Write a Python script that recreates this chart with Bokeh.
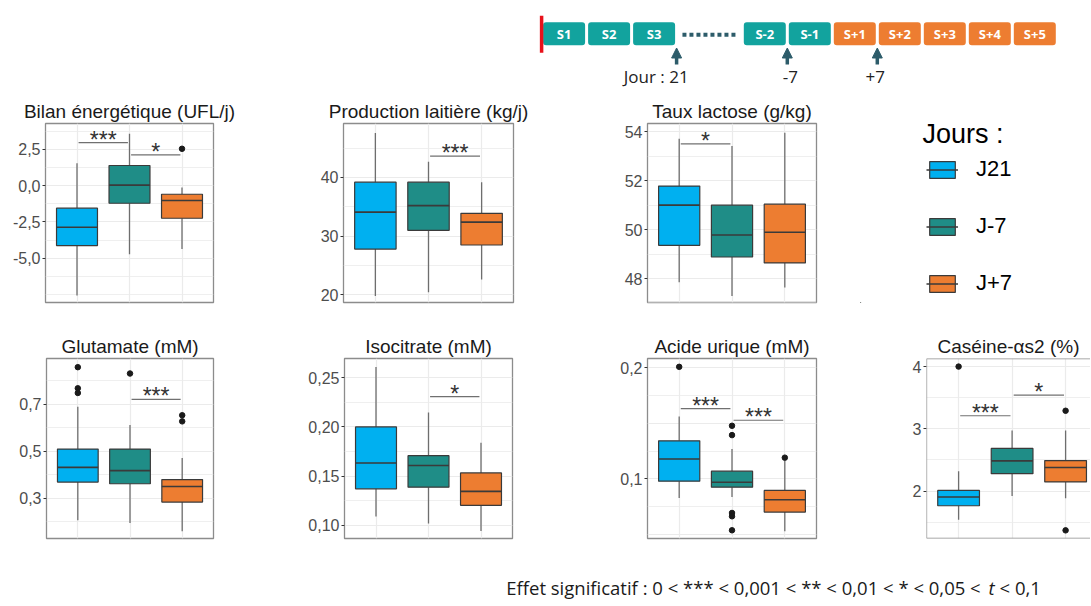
from bokeh.plotting import figure
from bokeh.layouts import row, column
from bokeh.models import (Range1d, ColumnDataSource, FixedTicker, CustomJSTickFormatter,
                          Legend, LegendItem, Span, Arrow, NormalHead, Label)
from bokeh.core.properties import value
from bokeh.embed import file_html
from bokeh.resources import INLINE

# ---------------- data ----------------
GROUPS = ["J21", "J-7", "J+7"]
COLORS = ["#00B0F0", "#1F8D87", "#ED7D31"]
LEGEND_TITLE = "Jours :"

# stats per group: [lower whisker, Q1, median, Q3, upper whisker]
bilan_stats = [[-7.57, -4.13, -2.87, -1.56, 1.54], [-4.73, -1.22, 0.03, 1.38, 3.56], [-4.36, -2.25, -1.03, -0.60, -0.14]]
bilan_out = [[], [], [2.53]]
bilan_sig = [("J21", "J-7", 2.96, "***"), ("J-7", "J+7", 2.11, "*")]

prod_stats = [[19.8, 27.8, 34.1, 39.2, 47.6], [20.45, 31.0, 35.2, 39.2, 42.7], [22.6, 28.5, 32.4, 33.9, 39.2]]
prod_out = [[], [], []]
prod_sig = [("J-7", "J+7", 43.65, "***")]

lact_stats = [[47.85, 49.36, 51.0, 51.78, 53.72], [47.29, 48.88, 49.78, 51.0, 53.42], [47.63, 48.64, 49.89, 51.04, 53.96]]
lact_out = [[], [], []]
lact_sig = [("J21", "J-7", 53.51, "*")]

glut_stats = [[0.205, 0.368, 0.431, 0.509, 0.689], [0.194, 0.361, 0.417, 0.509, 0.611], [0.159, 0.283, 0.349, 0.379, 0.471]]
glut_out = [[0.858, 0.768, 0.748], [0.831], [0.653, 0.627]]
glut_sig = [("J-7", "J+7", 0.721, "***")]

iso_stats = [[0.109, 0.137, 0.1633, 0.200, 0.261], [0.1017, 0.1387, 0.1607, 0.1708, 0.2146], [0.0942, 0.1202, 0.1344, 0.1532, 0.1839]]
iso_out = [[], [], []]
iso_sig = [("J-7", "J+7", 0.2308, "*")]

uric_stats = [[0.0827, 0.0979, 0.1179, 0.1343, 0.1561], [0.0836, 0.0925, 0.0970, 0.1069, 0.1269], [0.0528, 0.0701, 0.0812, 0.0896, 0.1164]]
uric_out = [[0.2009], [0.1478, 0.1394, 0.0693, 0.0663, 0.0537], [0.1191]]
uric_sig = [("J21", "J-7", 0.1633, "***"), ("J-7", "J+7", 0.1528, "***")]

cas_stats = [[1.537, 1.763, 1.905, 2.01, 2.316], [1.921, 2.279, 2.484, 2.684, 2.974], [1.884, 2.147, 2.379, 2.49, 2.974]]
cas_out = [[4.0], [], [3.29, 1.368]]
cas_sig = [("J21", "J-7", 3.21, "***"), ("J-7", "J+7", 3.542, "*")]

# timeline
WEEKS = ["S1", "S2", "S3", "S-2", "S-1", "S+1", "S+2", "S+3", "S+4", "S+5"]
WEEK_PHASE = ["pre", "pre", "pre", "pre", "pre", "post", "post", "post", "post", "post"]
EVENTS = ["Jour : 21", "-7", "+7"]
EVENT_AFTER = ["S3", "S-2", "S+1"]

FOOT_A = "Effet significatif :  0 < *** < 0,001 < ** < 0,01 < * < 0,05 <"
FOOT_T = "t"
FOOT_B = "< 0,1"

# ---------------- style ----------------
FONT = "Liberation Sans"
BOX_LINE = "#3A3A3A"
WHISK = "#6E6E6E"
GRID = "#EBEBEB"
BOXW = 0.78
LABELLED = {"Acide urique (mM)": [0.1, 0.2]}


def panel(title, stats, outs, sigs, ylim, ticks, minor, dec, width, left, right, height,
          bottom, xend=3.6, cut=False):
    p = figure(width=width, height=height, x_range=Range1d(0.4, xend), y_range=Range1d(*ylim),
               toolbar_location=None, output_backend="svg", x_axis_location=None,
               min_border_left=left, min_border_right=right, min_border_top=0,
               min_border_bottom=bottom, outline_line_color=None if cut else "#8C8C8C",
               outline_line_width=1.3)
    p.title.text = title
    p.title.align = "center"
    p.title.text_font = FONT
    p.title.text_font_size = "19px"
    p.title.text_font_style = "normal"
    p.title.text_color = "#1A1A1A"
    p.title.standoff = 3
    p.title.offset = 0

    xs = [i + 1 for i in range(len(GROUPS))]
    src = ColumnDataSource(dict(
        x=xs, lo=[s[0] for s in stats], q1=[s[1] for s in stats], med=[s[2] for s in stats],
        q3=[s[3] for s in stats], hi=[s[4] for s in stats], color=COLORS,
        xl=[x - BOXW / 2 for x in xs], xr=[x + BOXW / 2 for x in xs]))
    p.segment(x0="x", y0="lo", x1="x", y1="q1", source=src, line_color=WHISK, line_width=1.3)
    p.segment(x0="x", y0="q3", x1="x", y1="hi", source=src, line_color=WHISK, line_width=1.3)
    p.vbar(x="x", width=BOXW, bottom="q1", top="q3", source=src, fill_color="color",
           line_color=BOX_LINE, line_width=1.2)
    p.segment(x0="xl", y0="med", x1="xr", y1="med", source=src, line_color=BOX_LINE, line_width=1.6)

    ox, oy = [], []
    for i, o in enumerate(outs):
        ox += [xs[i]] * len(o)
        oy += o
    p.scatter(ox, oy, size=5.5, color="#1A1A1A")

    sx0, sx1, sy, st, sxm = [], [], [], [], []
    for g1, g2, y, lab in sigs:
        a = GROUPS.index(g1) + 1
        b = GROUPS.index(g2) + 1
        sx0.append(a + 0.03)
        sx1.append(b - 0.03)
        sy.append(y)
        st.append(lab)
        sxm.append((a + b) / 2)
    p.segment(x0=sx0, y0=sy, x1=sx1, y1=sy, line_color="#707070", line_width=1.2)
    p.text(x=sxm, y=sy, text=st, text_align="center", text_baseline="alphabetic", y_offset=-3,
           text_font=value(FONT), text_font_size="23px", text_color="#333333")

    p.xgrid.ticker = FixedTicker(ticks=xs)
    p.ygrid.ticker = FixedTicker(ticks=ticks, minor_ticks=minor)
    p.xgrid.grid_line_color = GRID
    p.ygrid.grid_line_color = GRID
    p.ygrid.minor_grid_line_color = GRID
    p.xgrid.grid_line_width = 1.2
    p.ygrid.grid_line_width = 1.2
    p.ygrid.minor_grid_line_width = 0.8

    ax = p.yaxis[0]
    ax.ticker = FixedTicker(ticks=[t for t in ticks if t in LABELLED.get(title, ticks)])
    ax.formatter = CustomJSTickFormatter(code="return tick.toFixed(%d).replace('.', ',');" % dec)
    ax.axis_line_color = None
    ax.major_tick_out = 3
    ax.major_tick_in = 0
    ax.minor_tick_out = 0
    ax.minor_tick_in = 0
    ax.major_tick_line_color = "#333333"
    ax.major_label_text_font = FONT
    ax.major_label_text_font_size = "16px"
    ax.major_label_text_color = "#4D4D4D"
    ax.major_label_standoff = 2

    if cut:
        for loc, dim in [(ylim[0], "width"), (ylim[1], "width"), (0.4, "height")]:
            p.add_layout(Span(location=loc, dimension=dim, line_color="#8C8C8C", line_width=1.3))
    return p


HT, H1, H2, HF = 97, 235, 224, 46
p1 = panel("Bilan énergétique (UFL/j)", bilan_stats, bilan_out, bilan_sig, (-8.05, 4.27),
           [-5, -2.5, 0, 2.5], [-7.5, -6.25, -3.75, -1.25, 1.25, 3.75], 1, 280, 45, 67, H1, 30)
p2 = panel("Production laitière (kg/j)", prod_stats, prod_out, prod_sig, (18.7, 49.2),
           [20, 30, 40], [25, 35, 45], 0, 300, 63, 67, H1, 30)
p3 = panel("Taux lactose (g/kg)", lact_stats, lact_out, lact_sig, (47.02, 54.34),
           [48, 50, 52, 54], [47, 49, 51, 53], 0, 280, 67, 44, H1, 30)

p4 = panel("Glutamate (mM)", glut_stats, glut_out, glut_sig, (0.1276, 0.895),
           [0.3, 0.5, 0.7], [0.2, 0.4, 0.6, 0.8], 1, 280, 46, 67, H2, 18)
p5 = panel("Isocitrate (mM)", iso_stats, iso_out, iso_sig, (0.0865, 0.2696),
           [0.10, 0.15, 0.20, 0.25], [0.125, 0.175, 0.225], 2, 300, 64, 68, H2, 18)
p6 = panel("Acide urique (mM)", uric_stats, uric_out, uric_sig, (0.0463, 0.2084),
           [0.05, 0.1, 0.15, 0.2], [0.075, 0.125, 0.175], 1, 290, 67, 54, H2, 18)
p7 = panel("Caséine-αs2 (%)", cas_stats, cas_out, cas_sig, (1.237, 4.13),
           [2, 3, 4], [1.5, 2.5, 3.5], 0, 220, 56, 0, H2, 18, xend=0.4 + 164 / 53.5, cut=True)

# ---------------- legend ----------------
pl = figure(width=230, height=H1, x_range=Range1d(0, 1), y_range=Range1d(0, 1),
            toolbar_location=None, output_backend="svg", x_axis_location=None,
            y_axis_location=None, min_border=0, outline_line_color=None)
pl.grid.visible = False
items = []
for g, c in zip(GROUPS, COLORS):
    rb = pl.vbar(x=[-10], top=[-10], bottom=[-11], width=0.1, fill_color=c, line_color=BOX_LINE,
                 line_width=1.2)
    rm = pl.segment(x0=[-10], y0=[-10], x1=[-9], y1=[-10], line_color=BOX_LINE, line_width=1.4)
    items.append(LegendItem(label=g, renderers=[rb, rm]))
leg = Legend(items=items, location=(66, 6), padding=0, margin=0,
             border_line_color=None, background_fill_alpha=0,
             label_text_font=FONT, label_text_font_size="22px", label_text_color="#000000",
             glyph_width=32, glyph_height=21, label_standoff=18, spacing=31)
pl.add_layout(leg)
pl.add_layout(Label(x=62, y=169, x_units="screen", y_units="screen", text=LEGEND_TITLE,
                    text_font=FONT, text_font_size="27px", text_color="#000000",
                    text_baseline="alphabetic"))

# ---------------- timeline ----------------
GAP = 1.46
unit = 45.0
x0 = -563.6 / unit
TW = 1090
pt = figure(width=TW, height=HT, x_range=Range1d(x0, x0 + TW / unit), y_range=Range1d(HT, 0),
            toolbar_location=None, output_backend="svg", x_axis_location=None,
            y_axis_location=None, min_border=0, outline_line_color=None)
pt.grid.visible = False
wpos = [i + (GAP if i >= 3 else 0) for i in range(len(WEEKS))]
wcol = ["#12A39E" if ph == "pre" else "#ED7D31" for ph in WEEK_PHASE]
BOX_Y, BOX_H = 33.3, 23
pt.rect(x=wpos, y=[BOX_Y] * len(WEEKS), width=42 / unit, height=BOX_H, fill_color=wcol,
        line_color=None, border_radius=3)
pt.text(x=wpos, y=[BOX_Y] * len(WEEKS), text=WEEKS, text_align="center", text_baseline="middle",
        text_color="white", text_font=value("Open Sans"), text_font_style="bold", text_font_size="13px")
pt.segment(x0=[wpos[0] - 0.5], y0=[BOX_Y - 18], x1=[wpos[0] - 0.5], y1=[BOX_Y + 19],
           line_color="#E8111A", line_width=3.5)
pt.segment(x0=[wpos[2] + 0.63], y0=[BOX_Y + 1], x1=[wpos[3] - 0.6], y1=[BOX_Y + 1],
           line_color="#2D5C6A", line_width=4, line_dash="4 3")
ev_x = [(wpos[WEEKS.index(a)] + wpos[WEEKS.index(a) + 1]) / 2 if WEEKS.index(a) != 2
        else wpos[2] + 0.5 for a in EVENT_AFTER]
asrc = ColumnDataSource(dict(x=ev_x, y0=[64] * 3, y1=[47.5] * 3))
pt.add_layout(Arrow(source=asrc, x_start="x", y_start="y0", x_end="x", y_end="y1",
                    line_color="#2D5C6A", line_width=3.5,
                    end=NormalHead(size=10, fill_color="#2D5C6A", line_color="#2D5C6A")))
pt.text(x=ev_x, y=[76] * 3, text=EVENTS, text_align=["right", "center", "center"],
        x_offset=[12, 3, -2], text_baseline="middle",
        text_font=value("Open Sans"), text_font_size="17px", text_color="#222222")

# ---------------- footnote ----------------
pf = figure(width=TW, height=HF, x_range=Range1d(0, TW), y_range=Range1d(0, HF),
            toolbar_location=None, output_backend="svg", x_axis_location=None,
            y_axis_location=None, min_border=0, outline_line_color=None)
pf.grid.visible = False
for txt, xx, al, sty in [(FOOT_A, 985, "right", "normal"), (FOOT_T, 991, "center", "italic"),
                         (FOOT_B, 999, "left", "normal")]:
    pf.add_layout(Label(x=xx, y=15, text=txt, text_align=al, text_baseline="alphabetic",
                        text_font="Open Sans", text_font_size="18.5px", text_font_style=sty,
                        text_color="#1A1A1A"))

layout = column(pt, row(p1, p2, p3, pl), row(p4, p5, p6, p7), pf)
open("out.html", "w").write(file_html(layout, INLINE))
